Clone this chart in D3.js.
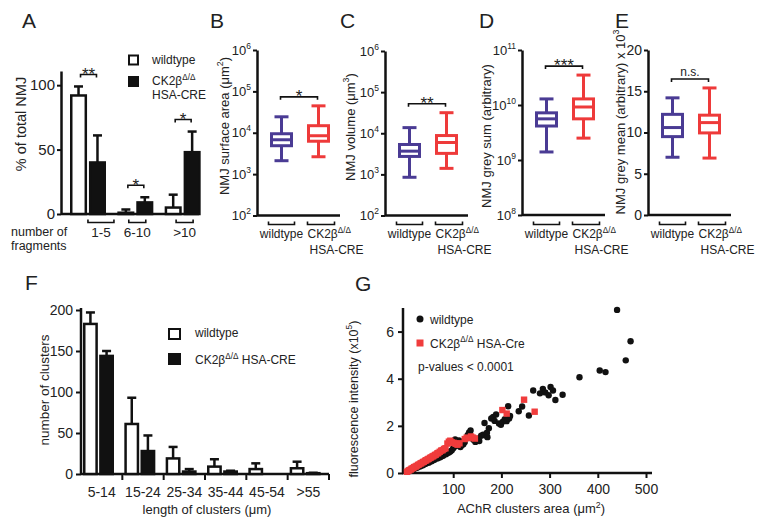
<!DOCTYPE html>
<html><head><meta charset="utf-8">
<script src="https://cdn.jsdelivr.net/npm/d3@7"></script>
<style>
body{margin:0;background:#fff;}
svg text{font-family:"Liberation Sans",Arial,Helvetica,sans-serif;fill:#222;}
</style></head><body>
<svg id="c" width="758" height="521"></svg>
<script>
// ================= DATA =================
// Panel A: % of total NMJ by number of fragments
const fragCategories = ["1-5", "6-10", ">10"];
const fragWT = [92, 1, 5];
const fragWTErr = [7, 2.5, 10];
const fragKO = [40, 9, 48];
const fragKOErr = [21, 4, 16];
const fragSig = ["**", "*", "*"];
const fragTicks = [0, 50, 100];

// Panels B-E: box plots [min, q1, median, q3, max]
const surfaceWT = [2110, 4860, 6770, 9460, 24300];
const surfaceKO = [2630, 6240, 8470, 14800, 44700];
const volumeWT = [850, 2730, 3670, 5330, 13700];
const volumeKO = [1400, 3240, 5960, 8790, 31600];
const greySumWT = [1.4e9, 4.15e9, 5.6e9, 7.2e9, 1.29e10];
const greySumKO = [2.5e9, 5.6e9, 9.2e9, 1.29e10, 3.5e10];
const greyMeanWT = [7.0, 9.5, 10.6, 12.2, 14.2];
const greyMeanKO = [6.9, 9.95, 11.2, 12.1, 15.4];
const logTicks6 = [1e2, 1e3, 1e4, 1e5, 1e6];
const logTicks11 = [1e8, 1e9, 1e10, 1e11];
const meanTicks = [0, 5, 10, 15, 20];

// Panel F: number of clusters by length
const lengthCategories = ["5-14", "15-24", "25-34", "35-44", "45-54", ">55"];
const clustersWT = [183, 61, 19, 9, 6, 7];
const clustersWTErr = [14, 32, 14, 9, 7, 8];
const clustersKO = [144, 28, 3, 3, 0, 1];
const clustersKOErr = [6, 19, 3, 1, 0, 0.5];
const clusterTicks = [0, 50, 100, 150, 200];

// Panel G: fluorescence intensity vs AChR cluster area
const scatterWT = [[6,0.05],[9,0.09],[11,0.1],[14,0.12],[17,0.16],[19,0.18],[22,0.21],[25,0.22],[28,0.26],[31,0.28],[34,0.32],[37,0.33],[40,0.37],[43,0.39],[46,0.43],[49,0.44],[52,0.49],[55,0.5],[58,0.54],[61,0.56],[64,0.61],[67,0.62],[70,0.66],[73,0.67],[76,0.71],[79,0.73],[82,0.78],[85,0.8],[88,0.85],[91,0.87],[94,0.91],[97,0.96],[100,1.05],[103,1.12],[106,1.16],[104,1.42],[109,1.31],[112,1.38],[115,1.1],[118,1.19],[121,1.22],[124,1.31],[127,1.46],[130,1.6],[133,1.72],[136,1.8],[134,1.65],[139,1.52],[142,1.41],[146,1.32],[150,1.45],[154,1.36],[158,1.58],[162,1.63],[166,1.6],[170,1.71],[171,1.52],[165,2.12],[174,1.9],[179,2.31],[183,2.38],[186,2.21],[189,2.48],[195,2.1],[199,2.05],[203,2.18],[207,2.28],[211,2.2],[216,2.31],[218,2.42],[214,2.83],[236,2.62],[243,2.82],[257,2.44],[266,3.5],[280,3.38],[286,3.57],[291,3.42],[298,3.3],[302,3.65],[307,3.5],[312,3.1],[327,3.32],[362,4.06],[404,4.35],[416,4.28],[440,6.92],[458,4.78],[468,5.59]];
const scatterKO = [[4,0.05],[7,0.09],[9,0.12],[12,0.15],[14,0.19],[17,0.21],[19,0.25],[22,0.27],[24,0.3],[27,0.34],[29,0.36],[32,0.4],[34,0.42],[37,0.46],[39,0.48],[42,0.52],[44,0.54],[47,0.58],[49,0.6],[52,0.64],[54,0.66],[57,0.7],[59,0.72],[62,0.76],[64,0.78],[67,0.83],[69,0.85],[72,0.9],[75,0.95],[78,0.97],[81,1.02],[84,1.05],[88,1.25],[91,1.33],[94,1.37],[97,1.3],[101,1.28],[105,1.24],[109,1.2],[113,1.26],[124,1.44],[128,1.5],[132,1.48],[137,1.55],[141,1.5],[145,1.46],[202,2.67],[211,2.52],[247,3.11],[269,2.6]];
const gXTicks = [100, 200, 300, 400, 500];
const gYTicks = [0, 2, 4, 6];

const seriesKeys = ["wt", "ko"];

// ================= DRAWING =================
const svg = d3.select("#c");
const BLACK = "#111";
const PURPLE = "#4a3b94";
const RED = "#ee3a3a";

function rich(parent, parts, size, attrs) {
  const t = parent.append("text").attr("font-size", size);
  for (const k in (attrs || {})) t.attr(k, attrs[k]);
  let raised = false;
  const rise = size * 0.42;
  parts.forEach(p => {
    const isSup = typeof p === "object";
    const ts = t.append("tspan").text(isSup ? p.sup : p);
    if (isSup) { ts.attr("font-size", size * 0.68); if (!raised) { ts.attr("dy", -rise); raised = true; } }
    else if (raised) { ts.attr("dy", rise); raised = false; }
  });
  return t;
}
function vtitle(parts, cx, cy, size) {
  return rich(svg, parts, size, {"text-anchor": "middle",
    transform: `translate(${cx + size * 0.36},${cy}) rotate(-90)`});
}
function letter(t, x, y) { svg.append("text").attr("x", x).attr("y", y).attr("font-size", 21).text(t); }
function hline(x1, x2, y, w) {
  svg.append("line").attr("x1", x1).attr("x2", x2).attr("y1", y).attr("y2", y)
    .attr("stroke", BLACK).attr("stroke-width", w || 2.5);
}
function styleAxis(g, fs) {
  g.attr("font-family", null).attr("font-size", null);
  g.select(".domain").attr("stroke", BLACK).attr("stroke-width", 2.5);
  g.selectAll(".tick line").attr("stroke", BLACK).attr("stroke-width", 2);
  g.selectAll(".tick text").attr("font-size", fs).attr("fill", "#222");
}
function sigBracket(x1, x2, y, label, isText) {
  const p = d3.path();
  p.moveTo(x1, y + 3); p.lineTo(x1, y); p.lineTo(x2, y); p.lineTo(x2, y + 3);
  svg.append("path").attr("d", p.toString()).attr("fill", "none").attr("stroke", BLACK).attr("stroke-width", 1.6);
  if (isText) svg.append("text").attr("x", (x1 + x2) / 2).attr("y", y - 3).attr("text-anchor", "middle").attr("font-size", 12).text(label);
  else svg.append("text").attr("x", (x1 + x2) / 2).attr("y", y + 5.3).attr("text-anchor", "middle").attr("font-size", 17).text(label);
}
function catBracket(x1, x2, y) {
  const p = d3.path();
  p.moveTo(x1, y - 3); p.lineTo(x1, y); p.lineTo(x2, y); p.lineTo(x2, y - 3);
  svg.append("path").attr("d", p.toString()).attr("fill", "none").attr("stroke", BLACK).attr("stroke-width", 1.6);
}

// ---------- Panel A ----------
{
  letter("A", 22, 28);
  const yA = d3.scaleLinear().domain([0, 111]).range([214, 71]);
  const xA = d3.scaleBand().domain(fragCategories).range([62, 204]);
  const xA1 = d3.scaleBand().domain(seriesKeys).range([8, 44]).paddingInner(0.1);
  const ax = svg.append("g").attr("transform", "translate(61,0)")
    .call(d3.axisLeft(yA).tickValues(fragTicks).tickSize(4).tickSizeOuter(0).tickPadding(2));
  styleAxis(ax, 15);
  hline(61, 199, yA(0));
  const series = [{key: "wt", vals: fragWT, errs: fragWTErr, fill: "#fff"},
                  {key: "ko", vals: fragKO, errs: fragKOErr, fill: BLACK}];
  const bw = xA1.bandwidth();
  series.forEach(s => {
    const g = svg.append("g");
    fragCategories.forEach((c, i) => {
      const cx = xA(c) + xA1(s.key) + bw / 2;
      const top = yA(s.vals[i] + s.errs[i]);
      g.append("line").attr("x1", cx).attr("x2", cx).attr("y1", yA(s.vals[i])).attr("y2", top).attr("stroke", BLACK).attr("stroke-width", 2.5);
      g.append("line").attr("x1", cx - 4.5).attr("x2", cx + 4.5).attr("y1", top).attr("y2", top).attr("stroke", BLACK).attr("stroke-width", 2.5);
    });
    g.selectAll("rect").data(fragCategories).join("rect")
      .attr("x", c => xA(c) + xA1(s.key) + 1.25)
      .attr("width", bw - 2.5)
      .attr("y", (c, i) => yA(s.vals[i]))
      .attr("height", (c, i) => yA(0) - yA(s.vals[i]))
      .attr("fill", s.fill).attr("stroke", BLACK).attr("stroke-width", 2.5);
  });
  fragCategories.forEach((c, i) => {
    const wc = xA(c) + xA1("wt") + bw / 2, kc = xA(c) + xA1("ko") + bw / 2;
    const top = Math.min(yA(fragWT[i] + fragWTErr[i]), yA(fragKO[i] + fragKOErr[i]));
    sigBracket(wc + 2, kc - 1, top - 12, fragSig[i]);
    const shift = i === 0 ? 12 : 1;
    const bc = xA(c) + xA1("ko") + shift;
    const half = i === 0 ? 13 : 8.5;
    catBracket(bc - half, bc + half, 222.5);
    svg.append("text").attr("x", bc).attr("y", 237).attr("text-anchor", "middle").attr("font-size", 13.5).text(c);
  });
  svg.append("text").attr("x", 11).attr("y", 235.5).attr("font-size", 12.5).text("number of");
  svg.append("text").attr("x", 11).attr("y", 250).attr("font-size", 12.5).text("fragments");
  vtitle(["% of total NMJ"], 21, 124, 14.5);
  // legend
  svg.append("rect").attr("x", 129).attr("y", 55.5).attr("width", 9).attr("height", 9).attr("fill", "#fff").attr("stroke", BLACK).attr("stroke-width", 2);
  svg.append("rect").attr("x", 128).attr("y", 76).attr("width", 11).attr("height", 11).attr("fill", BLACK);
  svg.append("text").attr("x", 152).attr("y", 64).attr("font-size", 12).text("wildtype");
  rich(svg, ["CK2β", {sup: "Δ/Δ"}], 12, {x: 152, y: 85});
  svg.append("text").attr("x", 152).attr("y", 99).attr("font-size", 12).text("HSA-CRE");
}

// ---------- Panels B-E ----------
function boxPanel(cfg) {
  const x0 = cfg.x0;
  const y = cfg.y;
  const xB = d3.scaleBand().domain(seriesKeys).range([x0 + 6, x0 + 80]);
  const ax = svg.append("g").attr("transform", `translate(${x0},0)`)
    .call(d3.axisLeft(y).tickValues(cfg.ticks).tickSize(4).tickSizeOuter(0).tickPadding(2)
      .tickFormat(d3.format("d")));
  styleAxis(ax, cfg.log ? 13 : 14);
  if (cfg.log) {
    ax.selectAll(".tick text").text(null).each(function (d) {
      const t = d3.select(this);
      t.append("tspan").text("10");
      t.append("tspan").attr("dy", -6).attr("font-size", 8.5).text(Math.round(Math.log10(d)));
    });
  }
  hline(x0, x0 + 83, y.range()[0]);
  const stats = {wt: cfg.wt, ko: cfg.ko};
  const colors = {wt: PURPLE, ko: RED};
  seriesKeys.forEach(k => {
    const s = stats[k], cx = xB(k) + xB.bandwidth() / 2, col = colors[k];
    const g = svg.append("g").attr("stroke", col).attr("stroke-width", 3).attr("fill", "none");
    g.append("line").attr("x1", cx).attr("x2", cx).attr("y1", y(s[0])).attr("y2", y(s[1]));
    g.append("line").attr("x1", cx).attr("x2", cx).attr("y1", y(s[3])).attr("y2", y(s[4]));
    [s[0], s[4]].forEach(v => g.append("line").attr("x1", cx - 7).attr("x2", cx + 7).attr("y1", y(v)).attr("y2", y(v)));
    g.append("rect").attr("x", cx - 10).attr("width", 20).attr("y", y(s[3])).attr("height", y(s[1]) - y(s[3])).attr("fill", "#fff");
    g.append("line").attr("x1", cx - 10).attr("x2", cx + 10).attr("y1", y(s[2])).attr("y2", y(s[2]));
  });
  const wc = xB("wt") + xB.bandwidth() / 2, kc = xB("ko") + xB.bandwidth() / 2;
  const top = Math.min(y(cfg.wt[4]), y(cfg.ko[4]));
  sigBracket(wc - 1, kc - 1, top - 9, cfg.sig, cfg.sigText);
  catBracket(wc - 13, wc + 13, 224.5);
  catBracket(kc - 11, kc + 16, 224.5);
  svg.append("text").attr("x", wc).attr("y", 238).attr("text-anchor", "middle").attr("font-size", 12).text("wildtype");
  rich(svg, ["CK2β", {sup: "Δ/Δ"}], 12, {x: kc - 11, y: 238});
  svg.append("text").attr("x", kc - 9).attr("y", 254).attr("font-size", 12).text("HSA-CRE");
  vtitle(cfg.title, cfg.tx, cfg.ty, 13);
  letter(cfg.letter, cfg.lx, 28);
}
boxPanel({x0: 257, y: d3.scaleLog().domain([1e2, 1e6]).range([215.5, 50]), log: true, ticks: logTicks6,
  wt: surfaceWT, ko: surfaceKO, sig: "*", title: ["NMJ surface area (μm", {sup: "2"}, ")"], tx: 224, ty: 126, letter: "B", lx: 210});
boxPanel({x0: 385, y: d3.scaleLog().domain([1e2, 1e6]).range([215.5, 51]), log: true, ticks: logTicks6,
  wt: volumeWT, ko: volumeKO, sig: "**", title: ["NMJ volume (μm", {sup: "3"}, ")"], tx: 350, ty: 127, letter: "C", lx: 340});
boxPanel({x0: 522, y: d3.scaleLog().domain([1e8, 1e11]).range([215, 50]), log: true, ticks: logTicks11,
  wt: greySumWT, ko: greySumKO, sig: "***", title: ["NMJ grey sum (arbitrary)"], tx: 486, ty: 136, letter: "D", lx: 479});
boxPanel({x0: 648, y: d3.scaleLinear().domain([0, 20]).range([215, 50]), log: false, ticks: meanTicks,
  wt: greyMeanWT, ko: greyMeanKO, sig: "n.s.", sigText: true, title: ["NMJ grey mean (arbitrary) x 10", {sup: "3"}], tx: 620, ty: 122, letter: "E", lx: 615});

// ---------- Panel F ----------
{
  letter("F", 25, 290);
  const yF = d3.scaleLinear().domain([0, 200]).range([474, 310]);
  const xF = d3.scaleBand().domain(lengthCategories).range([81, 329]);
  const xF1 = d3.scaleBand().domain(seriesKeys).range([2, 33]).paddingInner(0.08);
  const ax = svg.append("g").attr("transform", "translate(81,0)")
    .call(d3.axisLeft(yF).tickValues(clusterTicks).tickSize(5).tickSizeOuter(0).tickPadding(3));
  styleAxis(ax, 14);
  ax.select(".domain").attr("d", `M0,${yF(0)}V${yF(200) - 2}`);
  const axb = svg.append("g").attr("transform", `translate(0,${yF(0)})`)
    .call(d3.axisBottom(xF).tickSize(0).tickSizeOuter(0).tickPadding(13));
  styleAxis(axb, 14);
  axb.select(".domain").attr("d", "M81,0H329");
  lengthCategories.forEach(c => {
    const bx = xF(c) + xF.bandwidth();
    svg.append("line").attr("x1", bx).attr("x2", bx).attr("y1", yF(0)).attr("y2", yF(0) + 6).attr("stroke", BLACK).attr("stroke-width", 2);
  });
  const bw = xF1.bandwidth();
  const series = [{key: "wt", vals: clustersWT, errs: clustersWTErr, fill: "#fff"},
                  {key: "ko", vals: clustersKO, errs: clustersKOErr, fill: BLACK}];
  series.forEach(s => {
    const g = svg.append("g");
    lengthCategories.forEach((c, i) => {
      if (s.errs[i] <= 0) return;
      const cx = xF(c) + xF1(s.key) + bw / 2;
      const top = yF(s.vals[i] + s.errs[i]);
      g.append("line").attr("x1", cx).attr("x2", cx).attr("y1", yF(s.vals[i])).attr("y2", top).attr("stroke", BLACK).attr("stroke-width", 2.5);
      g.append("line").attr("x1", cx - 4.5).attr("x2", cx + 4.5).attr("y1", top).attr("y2", top).attr("stroke", BLACK).attr("stroke-width", 2.5);
    });
    g.selectAll("rect").data(lengthCategories.filter((c, i) => s.vals[i] > 0)).join("rect")
      .attr("x", c => xF(c) + xF1(s.key) + 1.25)
      .attr("width", bw - 2.5)
      .attr("y", c => yF(s.vals[lengthCategories.indexOf(c)]))
      .attr("height", c => yF(0) - yF(s.vals[lengthCategories.indexOf(c)]))
      .attr("fill", s.fill).attr("stroke", BLACK).attr("stroke-width", 2.5);
  });
  vtitle(["number of clusters"], 44, 390, 13.5);
  svg.append("text").attr("x", 207).attr("y", 514).attr("text-anchor", "middle").attr("font-size", 13).text("length of clusters (μm)");
  svg.append("rect").attr("x", 169).attr("y", 329).attr("width", 11).attr("height", 10).attr("fill", "#fff").attr("stroke", BLACK).attr("stroke-width", 2);
  svg.append("rect").attr("x", 168).attr("y", 353).attr("width", 13).attr("height", 12).attr("fill", BLACK);
  svg.append("text").attr("x", 195).attr("y", 337).attr("font-size", 12).text("wildtype");
  rich(svg, ["CK2β", {sup: "Δ/Δ"}, " HSA-CRE"], 12, {x: 195, y: 364});
}

// ---------- Panel G ----------
{
  letter("G", 355, 291);
  const xG = d3.scaleLinear().domain([0, 500]).range([405, 646]);
  const yG = d3.scaleLinear().domain([0, 7]).range([473, 308]);
  const ay = svg.append("g").attr("transform", "translate(403,0)")
    .call(d3.axisLeft(yG).tickValues(gYTicks).tickSize(5).tickSizeOuter(0).tickPadding(4).tickFormat(d3.format("d")));
  styleAxis(ay, 14);
  ay.select(".domain").attr("d", `M0,${yG(0)}V${yG(7)}`);
  const axx = svg.append("g").attr("transform", `translate(0,${yG(0)})`)
    .call(d3.axisBottom(xG).tickValues(gXTicks).tickSize(5).tickSizeOuter(0).tickPadding(6).tickFormat(d3.format("d")));
  styleAxis(axx, 14);
  axx.select(".domain").attr("d", "M402,0H652");
  svg.append("g").selectAll("circle").data(scatterWT).join("circle")
    .attr("cx", d => xG(d[0])).attr("cy", d => yG(d[1])).attr("r", 3.2).attr("fill", BLACK);
  svg.append("g").selectAll("rect").data(scatterKO).join("rect")
    .attr("x", d => xG(d[0]) - 3.2).attr("y", d => yG(d[1]) - 3.2).attr("width", 6.4).attr("height", 6.4).attr("fill", "#f03c3c");
  vtitle(["fluorescence intensity (x10", {sup: "5"}, ")"], 353, 399, 12.5);
  rich(svg, ["AChR clusters area (μm", {sup: "2"}, ")"], 13, {x: 531, y: 513, "text-anchor": "middle"});
  svg.append("circle").attr("cx", 420).attr("cy", 319).attr("r", 3.5).attr("fill", BLACK);
  svg.append("rect").attr("x", 416.5).attr("y", 339.5).attr("width", 7).attr("height", 7).attr("fill", "#f03c3c");
  svg.append("text").attr("x", 430).attr("y", 323.5).attr("font-size", 12).text("wildtype");
  rich(svg, ["CK2β", {sup: "Δ/Δ"}, " HSA-Cre"], 12, {x: 430, y: 347.5});
  svg.append("text").attr("x", 418).attr("y", 370.5).attr("font-size", 12).text("p-values < 0.0001");
}
</script>
</body></html>
